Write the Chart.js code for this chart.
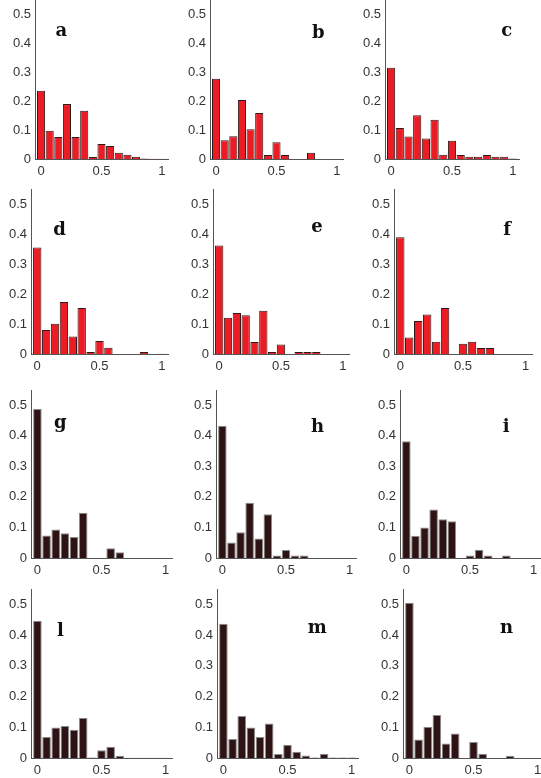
<!DOCTYPE html>
<html>
<head>
<meta charset="utf-8">
<script src="https://cdn.jsdelivr.net/npm/chart.js@4.4.1/dist/chart.umd.min.js"></script>
<style>
  html, body { margin: 0; padding: 0; background: #fff; }
  body { position: relative; width: 541px; height: 778px; overflow: hidden; }
  canvas { position: absolute; }
</style>
</head>
<body>
<script>
// ── Data: 15 histogram bins, one array per panel ──────────────────────
const binCenters = [0, 0.0714, 0.1429, 0.2143, 0.2857, 0.3571, 0.4286, 0.5, 0.5714, 0.6429, 0.7143, 0.7857, 0.8571, 0.9286, 1];

const panelA = [0.236, 0.098, 0.076, 0.190, 0.076, 0.167, 0.007, 0.052, 0.045, 0.022, 0.015, 0.008, 0.002, 0.001, 0.001];
const panelB = [0.278, 0.065, 0.079, 0.204, 0.103, 0.159, 0.014, 0.058, 0.014, 0, 0, 0.022, 0, 0, 0];
const panelC = [0.316, 0.107, 0.078, 0.151, 0.071, 0.136, 0.015, 0.063, 0.014, 0.008, 0.008, 0.014, 0.008, 0.008, 0.002];
const panelD = [0.355, 0.080, 0.101, 0.173, 0.058, 0.153, 0.007, 0.043, 0.021, 0, 0, 0, 0.007, 0, 0.001];
const panelE = [0.362, 0.121, 0.137, 0.129, 0.040, 0.144, 0.007, 0.032, 0, 0.007, 0.007, 0.007, 0, 0, 0];
const panelF = [0.389, 0.055, 0.110, 0.132, 0.041, 0.153, 0, 0.034, 0.041, 0.020, 0.020, 0, 0, 0, 0];
const panelG = [0.488, 0.074, 0.093, 0.081, 0.069, 0.148, 0, 0, 0.032, 0.019, 0, 0, 0, 0, 0];
const panelH = [0.433, 0.051, 0.084, 0.181, 0.064, 0.143, 0.008, 0.026, 0.008, 0.008, 0, 0, 0, 0, 0];
const panelI = [0.382, 0.073, 0.100, 0.159, 0.127, 0.120, 0, 0.008, 0.027, 0.008, 0, 0.008, 0, 0, 0];
const panelL = [0.447, 0.068, 0.099, 0.104, 0.092, 0.130, 0.002, 0.025, 0.037, 0.007, 0.001, 0.001, 0.001, 0.001, 0.001];
const panelM = [0.437, 0.062, 0.137, 0.099, 0.068, 0.112, 0.013, 0.043, 0.020, 0.008, 0.002, 0.014, 0.002, 0.002, 0.002];
const panelN = [0.505, 0.060, 0.102, 0.140, 0.047, 0.080, 0, 0.052, 0.014, 0, 0, 0.007, 0, 0, 0];

const panelLetters = ['a', 'b', 'c', 'd', 'e', 'f', 'g', 'h', 'i', 'l', 'm', 'n'];
const panelValues = [panelA, panelB, panelC, panelD, panelE, panelF, panelG, panelH, panelI, panelL, panelM, panelN];

const xTicks = [0, 0.5, 1];
const yTicks = [0, 0.1, 0.2, 0.3, 0.4, 0.5];

// ── Layout: pixel of x=0, x=1, y=0, y=0.5 for each panel ──────────────
const frames = [
  { x0: 40.7,  x1: 161.7, y0: 158.7, y5: 14 },
  { x0: 216,   x1: 336.7, y0: 158.7, y5: 14 },
  { x0: 391,   x1: 512.7, y0: 158.7, y5: 14 },
  { x0: 37.7,  x1: 162.3, y0: 354.3, y5: 204 },
  { x0: 219.3, x1: 343.3, y0: 354.3, y5: 204 },
  { x0: 400.7, x1: 525.7, y0: 354.3, y5: 204 },
  { x0: 37.7,  x1: 165.7, y0: 558,   y5: 405.3 },
  { x0: 222.3, x1: 349.3, y0: 558,   y5: 405.3 },
  { x0: 406.7, x1: 534,   y0: 558,   y5: 405.3 },
  { x0: 37.3,  x1: 165.7, y0: 757.7, y5: 604 },
  { x0: 223.3, x1: 351.7, y0: 757.7, y5: 604 },
  { x0: 409.3, x1: 537.7, y0: 757.7, y5: 604 },
];
// letter anchor in data units (x, baseline y)
const letterAt = [
  [0.168, 0.424], [0.845, 0.420], [0.950, 0.424],
  [0.179, 0.397], [0.790, 0.408], [0.852, 0.397],
  [0.178, 0.426], [0.748, 0.414], [0.784, 0.414],
  [0.179, 0.396], [0.732, 0.407], [0.757, 0.407],
];

const X_MIN = -0.05, X_MAX = 1.05, Y_MAX = 0.55;
const PAD_L = 40, PAD_R = 10, PAD_T = 16, PAD_B = 24;
const TICK_FONT = { family: '"Liberation Sans", Arial, sans-serif', size: 13 };

const letterPlugin = {
  id: 'panelLetter',
  afterDraw(chart, args, opts) {
    const { ctx, scales: { x, y } } = chart;
    ctx.save();
    ctx.font = 'bold 18px "DejaVu Serif", serif';
    ctx.fillStyle = '#111';
    ctx.textAlign = 'center';
    ctx.textBaseline = 'alphabetic';
    ctx.fillText(opts.text, x.getPixelForValue(opts.at[0]), y.getPixelForValue(opts.at[1]));
    ctx.restore();
  }
};

function makePanel(idx) {
  const f = frames[idx];
  const ux = f.x1 - f.x0, uy = (f.y0 - f.y5) / 0.5;
  const areaLeft = f.x0 + X_MIN * ux, areaW = (X_MAX - X_MIN) * ux;
  const areaTop = f.y0 - Y_MAX * uy, areaH = Y_MAX * uy;
  const w = Math.round(PAD_L + areaW + PAD_R), h = Math.round(PAD_T + areaH + PAD_B);

  const cv = document.createElement('canvas');
  cv.width = w; cv.height = h;
  cv.style.width = w + 'px'; cv.style.height = h + 'px';
  document.body.appendChild(cv);

  const dark = idx >= 6;
  const vals = panelValues[idx];
  const chart = new Chart(cv.getContext('2d'), {
    type: 'bar',
    data: {
      datasets: [{
        data: binCenters.map((x, k) => ({ x, y: vals[k] })),
        backgroundColor: dark ? '#2e1315' : '#ec1c24',
        borderColor: dark ? '#8c8c8c' : '#2e1a1a',
        borderWidth: 1,
        barPercentage: 0.94,
        categoryPercentage: 1,
      }],
    },
    options: {
      responsive: false,
      animation: false,
      events: [],
      layout: { padding: { left: 0, right: PAD_R, top: PAD_T, bottom: 0 } },
      plugins: {
        legend: { display: false },
        tooltip: { enabled: false },
        panelLetter: { text: panelLetters[idx], at: letterAt[idx] },
      },
      scales: {
        x: {
          type: 'linear', min: X_MIN, max: X_MAX, offset: false,
          grid: { display: false, drawTicks: false },
          border: { display: true, color: '#555', width: 1 },
          afterBuildTicks: s => { s.ticks = xTicks.map(v => ({ value: v })); },
          afterFit: s => { s.height = PAD_B; },
          ticks: { padding: 5, color: '#333', font: TICK_FONT, maxRotation: 0, autoSkip: false, callback: v => String(v) },
        },
        y: {
          min: 0, max: Y_MAX,
          grid: { display: false, drawTicks: false },
          border: { display: true, color: '#555', width: 1 },
          afterBuildTicks: s => { s.ticks = yTicks.map(v => ({ value: v })); },
          afterFit: s => { s.width = PAD_L; },
          ticks: { padding: 4, color: '#333', font: TICK_FONT, autoSkip: false, callback: v => String(v) },
        },
      },
    },
    plugins: [letterPlugin],
  });

  const ca = chart.chartArea;
  cv.style.left = Math.round(areaLeft - ca.left) + 'px';
  cv.style.top = Math.round(areaTop - ca.top) + 'px';
}

panelValues.forEach((_, i) => makePanel(i));
</script>
</body>
</html>
